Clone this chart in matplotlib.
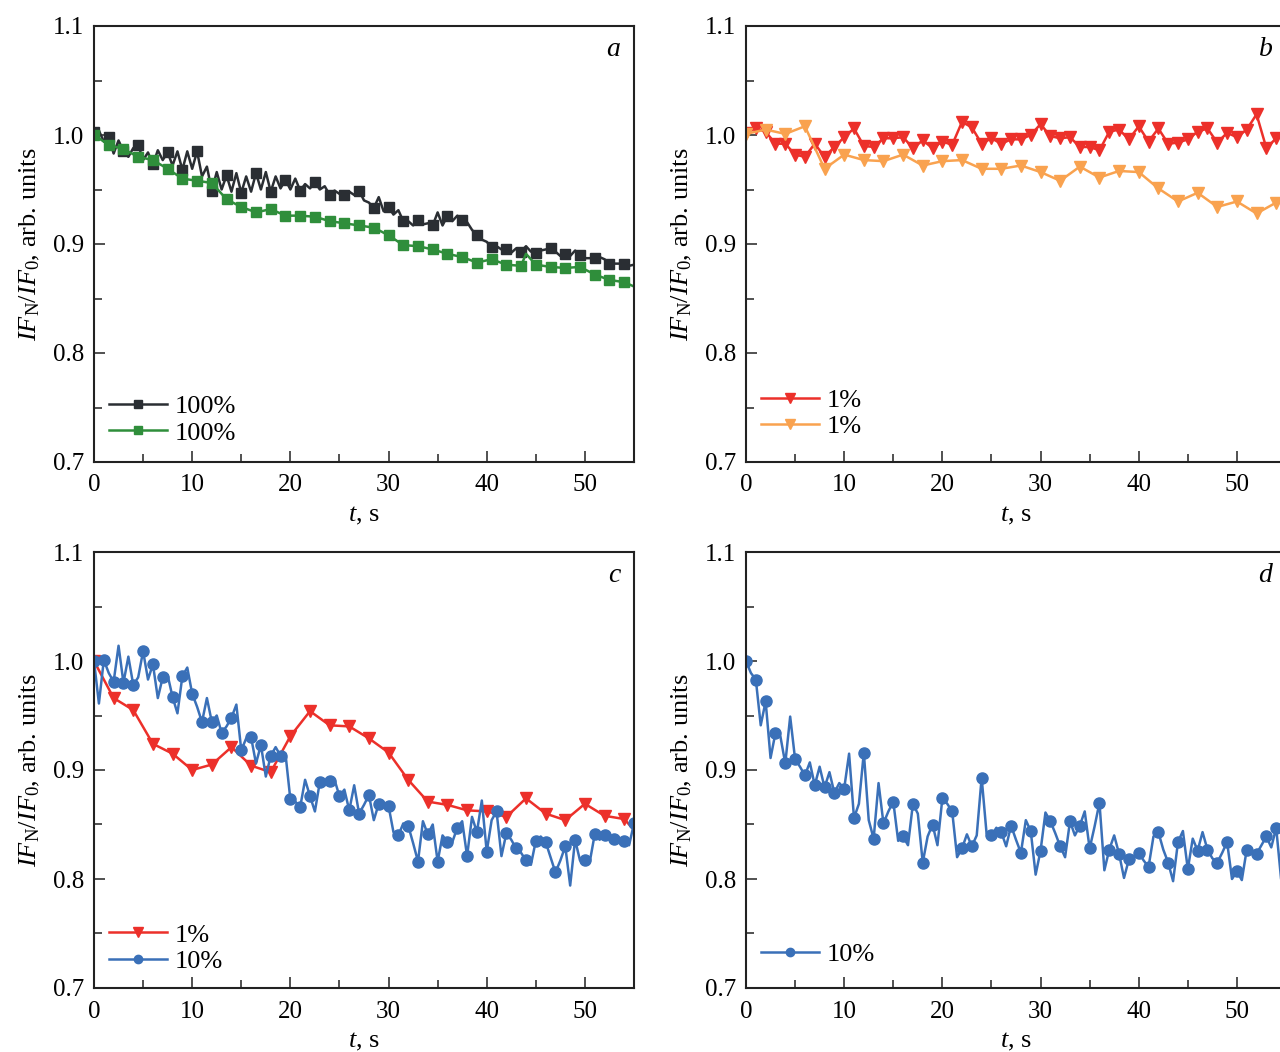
import numpy as np
import matplotlib
matplotlib.use("Agg")
import matplotlib.pyplot as plt
from matplotlib.ticker import MultipleLocator

plt.rcParams['font.family'] = ['Liberation Serif', 'DejaVu Serif']
plt.rcParams['mathtext.fontset'] = 'custom'
plt.rcParams['mathtext.rm'] = 'Liberation Serif'
plt.rcParams['mathtext.it'] = 'Liberation Serif:italic'
plt.rcParams['mathtext.bf'] = 'Liberation Serif:bold'

# ---------------- data ----------------
# panel a: 100% (black), sampled every 0.5 s, markers every 1.5 s
t_a_black = np.arange(0, 55.01, 0.5)
a_black = [1.003, 1.004, 0.994, 0.998, 0.983, 0.995, 0.985, 0.980, 0.988, 0.991,
           0.977, 0.984, 0.973, 0.986, 0.977, 0.984, 0.972, 0.985, 0.968, 0.985,
           0.969, 0.985, 0.962, 0.971, 0.949, 0.966, 0.950, 0.963, 0.948, 0.965,
           0.947, 0.962, 0.948, 0.965, 0.950, 0.966, 0.948, 0.962, 0.951, 0.959,
           0.950, 0.960, 0.949, 0.955, 0.951, 0.957, 0.950, 0.953, 0.945, 0.949,
           0.946, 0.945, 0.948, 0.945, 0.949, 0.940, 0.938, 0.933, 0.943, 0.930,
           0.934, 0.927, 0.931, 0.921, 0.921, 0.917, 0.922, 0.918, 0.919, 0.917,
           0.929, 0.917, 0.926, 0.921, 0.926, 0.922, 0.920, 0.913, 0.908, 0.904,
           0.902, 0.897, 0.898, 0.895, 0.895, 0.892, 0.896, 0.893, 0.898, 0.893,
           0.892, 0.894, 0.895, 0.896, 0.893, 0.889, 0.891, 0.889, 0.894, 0.890,
           0.887, 0.887, 0.887, 0.888, 0.886, 0.882, 0.882, 0.882, 0.882, 0.880,
           0.881]

# panel a: 100% (green)
t_a_green = [0, 1.5, 3, 4.5, 6, 7.5, 9, 10.5, 12, 13.5, 15, 16.5, 18, 19.5, 21,
             22.5, 24, 25.5, 27, 28.5, 30, 31.5, 33, 34.5, 36, 37.5, 39, 40.5,
             42, 43.5, 44, 45, 46.5, 48, 49.5, 51, 52.5, 54, 55]
a_green = [1.000, 0.991, 0.987, 0.980, 0.977, 0.969, 0.960, 0.958, 0.956, 0.941,
           0.934, 0.929, 0.932, 0.926, 0.926, 0.925, 0.921, 0.919, 0.917, 0.915,
           0.908, 0.899, 0.898, 0.895, 0.891, 0.888, 0.883, 0.886, 0.881, 0.880,
           0.891, 0.881, 0.879, 0.878, 0.879, 0.872, 0.867, 0.865, 0.861]

# panel b: 1% (red), every 1 s
t_b_red = np.arange(0, 56, 1)
b_red = [1.002, 1.006, 1.003, 0.992, 0.992, 0.982, 0.980, 0.992, 0.980, 0.989,
         0.998, 1.006, 0.990, 0.989, 0.997, 0.997, 0.998, 0.988, 0.995, 0.988,
         0.994, 0.991, 1.012, 1.007, 0.992, 0.997, 0.992, 0.996, 0.996, 1.000,
         1.010, 0.999, 0.997, 0.998, 0.989, 0.989, 0.986, 1.003, 1.005, 0.996,
         1.008, 0.994, 1.006, 0.992, 0.993, 0.996, 1.003, 1.006, 0.993, 1.002,
         0.998, 1.005, 1.019, 0.988, 0.997, 1.000]

# panel b: 1% (orange), every 2 s
t_b_orange = np.arange(0, 56, 2)
b_orange = [1.001, 1.005, 1.001, 1.008, 0.969, 0.982, 0.977, 0.976, 0.982, 0.972,
            0.976, 0.977, 0.969, 0.969, 0.972, 0.966, 0.958, 0.971, 0.961, 0.967,
            0.966, 0.951, 0.939, 0.947, 0.934, 0.939, 0.928, 0.938]

# panel c: 1% (red), every 2 s
t_c_red = [0, 2, 4, 6, 8, 10, 12, 14, 16, 18, 20, 22, 24, 26, 28, 30, 32, 34,
           36, 38, 40, 42, 44, 46, 48, 50, 52, 54, 55]
c_red = [1.000, 0.966, 0.955, 0.924, 0.915, 0.900, 0.905, 0.921, 0.904, 0.898,
         0.931, 0.954, 0.941, 0.940, 0.929, 0.916, 0.891, 0.871, 0.868, 0.863,
         0.862, 0.857, 0.874, 0.860, 0.854, 0.869, 0.858, 0.855, 0.845]

# panel c: 10% (blue), every 0.5 s, markers every 1 s
t_c_blue = np.arange(0, 55.01, 0.5)
c_blue = [1.000, 0.961, 1.001, 0.989, 0.981, 1.014, 0.980, 1.004, 0.978, 0.985,
          1.009, 0.983, 0.997, 0.966, 0.985, 0.987, 0.967, 0.952, 0.986, 0.994,
          0.970, 0.958, 0.944, 0.966, 0.944, 0.950, 0.934, 0.940, 0.948, 0.960,
          0.918, 0.929, 0.930, 0.906, 0.923, 0.894, 0.913, 0.921, 0.913, 0.915,
          0.873, 0.871, 0.866, 0.891, 0.876, 0.862, 0.889, 0.886, 0.890, 0.891,
          0.876, 0.882, 0.863, 0.886, 0.860, 0.868, 0.877, 0.854, 0.869, 0.868,
          0.867, 0.843, 0.840, 0.851, 0.849, 0.833, 0.816, 0.853, 0.841, 0.850,
          0.816, 0.840, 0.834, 0.834, 0.847, 0.853, 0.821, 0.857, 0.843, 0.872,
          0.825, 0.854, 0.862, 0.821, 0.842, 0.836, 0.828, 0.824, 0.817, 0.813,
          0.835, 0.839, 0.834, 0.820, 0.806, 0.817, 0.830, 0.794, 0.836, 0.817,
          0.817, 0.816, 0.841, 0.836, 0.840, 0.839, 0.837, 0.836, 0.835, 0.831,
          0.851]

# panel d: 10% (blue), every 0.5 s, markers every 1 s
t_d_blue = np.arange(0, 55.01, 0.5)
d_blue = [1.000, 0.989, 0.983, 0.941, 0.963, 0.911, 0.934, 0.931, 0.906, 0.949,
          0.910, 0.903, 0.895, 0.907, 0.886, 0.903, 0.884, 0.898, 0.879, 0.888,
          0.883, 0.915, 0.856, 0.869, 0.916, 0.854, 0.837, 0.888, 0.851, 0.862,
          0.871, 0.835, 0.839, 0.831, 0.869, 0.860, 0.815, 0.839, 0.850, 0.831,
          0.874, 0.869, 0.862, 0.820, 0.828, 0.841, 0.830, 0.840, 0.893, 0.842,
          0.840, 0.847, 0.843, 0.830, 0.849, 0.836, 0.824, 0.854, 0.844, 0.804,
          0.826, 0.861, 0.853, 0.842, 0.830, 0.820, 0.853, 0.840, 0.849, 0.862,
          0.828, 0.848, 0.870, 0.808, 0.827, 0.840, 0.823, 0.801, 0.818, 0.821,
          0.824, 0.817, 0.811, 0.839, 0.843, 0.827, 0.815, 0.798, 0.834, 0.844,
          0.809, 0.837, 0.826, 0.843, 0.827, 0.819, 0.815, 0.824, 0.834, 0.800,
          0.807, 0.799, 0.827, 0.825, 0.823, 0.831, 0.839, 0.829, 0.847, 0.800,
          0.755]

x_ticks = [0, 10, 20, 30, 40, 50]
panel_letters = ['a', 'b', 'c', 'd']

# ---------------- styling ----------------
C_BLACK = '#2a2e33'
C_GREEN = '#2f8e3b'
C_RED = '#ec302a'
C_ORANGE = '#f9a24f'
C_BLUE = '#3a70b8'

W, H = 1280, 1052
fig = plt.figure(figsize=(W / 100, H / 100), dpi=100)

def ax_rect(left_px, top_px, right_px, bottom_px):
    return [left_px / W, 1 - bottom_px / H, (right_px - left_px) / W, (bottom_px - top_px) / H]

ax_a = fig.add_axes(ax_rect(94, 26, 634, 462))
ax_b = fig.add_axes(ax_rect(746, 26, 1286, 462))
ax_c = fig.add_axes(ax_rect(94, 552, 634, 988))
ax_d = fig.add_axes(ax_rect(746, 552, 1286, 988))
axes = [ax_a, ax_b, ax_c, ax_d]

FS_TICK = 18
FS_LAB = 19
for ax, letter in zip(axes, panel_letters):
    ax.set_xlim(0, 55)
    ax.set_ylim(0.7, 1.1)
    ax.set_xticks(x_ticks)
    ax.xaxis.set_minor_locator(MultipleLocator(5))
    ax.yaxis.set_major_locator(MultipleLocator(0.1))
    ax.yaxis.set_minor_locator(MultipleLocator(0.05))
    ax.tick_params(which='both', direction='in', top=False, right=False,
                   labelsize=FS_TICK, width=1.1, color='#222222')
    ax.tick_params(which='major', length=8)
    ax.tick_params(which='minor', length=6)
    ax.tick_params(axis='x', pad=9)
    ax.tick_params(axis='y', pad=7)
    for sp in ax.spines.values():
        sp.set_linewidth(1.5)
        sp.set_color('#222222')
    ax.set_xlabel('$t$, s', fontsize=FS_LAB, labelpad=6)
    ax.set_ylabel(r'$IF_{\mathrm{N}}/IF_{0}$, arb. units', fontsize=FS_LAB, labelpad=8)
    ax.text(0.975, 0.947, letter, transform=ax.transAxes, ha='right', va='center',
            fontsize=20, style='italic')

LW = 1.8

def mask_every(t, step):
    t = np.asarray(t, dtype=float)
    return list(np.isclose(np.mod(t + 1e-9, step), 0, atol=1e-6))

# panel a
ax_a.plot(t_a_black, a_black, '-', color=C_BLACK, lw=LW, marker='s', ms=7.5,
          markevery=mask_every(t_a_black, 1.5), label='100%')
ax_a.plot(t_a_green, a_green, '-', color=C_GREEN, lw=LW, marker='s', ms=7.5,
          markevery=[bool(np.isclose(v % 1.5, 0) and v < 55) for v in t_a_green], label='100%')

# panel b
ax_b.plot(t_b_red, b_red, '-', color=C_RED, lw=LW, marker='v', ms=9, label='1%')
ax_b.plot(t_b_orange, b_orange, '-', color=C_ORANGE, lw=LW, marker='v', ms=9, label='1%')

# panel c
ax_c.plot(t_c_red, c_red, '-', color=C_RED, lw=LW, marker='v', ms=9,
          markevery=[v < 55 for v in t_c_red], label='1%')
ax_c.plot(t_c_blue, c_blue, '-', color=C_BLUE, lw=LW, marker='o', ms=8,
          markevery=mask_every(t_c_blue, 1.0), label='10%')

# panel d
ax_d.plot(t_d_blue, d_blue, '-', color=C_BLUE, lw=LW, marker='o', ms=8,
          markevery=mask_every(t_d_blue, 1.0), label='10%')

leg_kw = dict(frameon=False, fontsize=FS_LAB, handlelength=2.2, handletextpad=0.3,
              labelspacing=0.1, markerscale=0.75, borderaxespad=0, borderpad=0)
ax_a.legend(loc='lower left', bbox_to_anchor=(0.028, 0.04), **leg_kw)
ax_b.legend(loc='lower left', bbox_to_anchor=(0.028, 0.055), **leg_kw)
ax_c.legend(loc='lower left', bbox_to_anchor=(0.028, 0.035), **leg_kw)
ax_d.legend(loc='lower left', bbox_to_anchor=(0.028, 0.05), **leg_kw)

fig.savefig('out.png', dpi=100)
